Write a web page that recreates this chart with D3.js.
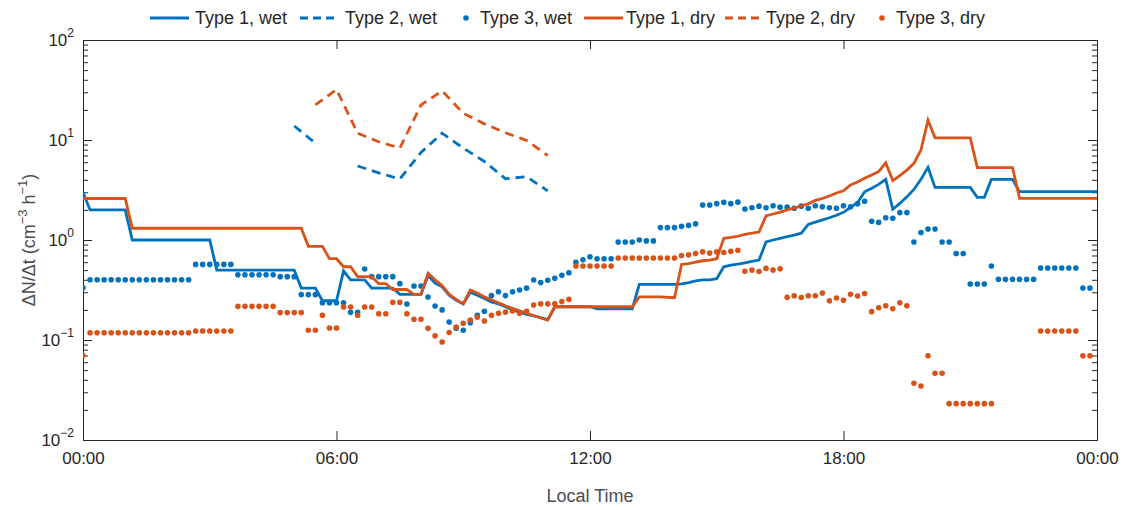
<!DOCTYPE html>
<html>
<head>
<meta charset="utf-8">
<script src="https://cdn.jsdelivr.net/npm/d3@7"></script>
<style>
  body { margin: 0; background: #fff; }
  svg { display: block; font-family: "Liberation Sans", Arial, Helvetica, sans-serif; }
</style>
</head>
<body>
<svg id="chart" width="1128" height="510"></svg>
<script>
// ---- axis ticks ----
const xTickHours = [0, 6, 12, 18, 24];
const xTickLabels = ["00:00", "06:00", "12:00", "18:00", "00:00"];
const yTickExponents = [-2, -1, 0, 1, 2];

// ---- series names (legend order) ----
const seriesNames = ["Type 1, wet", "Type 2, wet", "Type 3, wet", "Type 1, dry", "Type 2, dry", "Type 3, dry"];

// ---- Type 1: step-like rates, breakpoints given in 10-minute slots ----
const type1WetSlots = [0, 1, 6, 7, 18, 19, 30, 31, 33, 34, 36, 37, 38, 40, 41, 44, 45, 48, 49, 50,
  51, 52, 53, 54, 55, 56, 57, 58, 59, 60, 61, 62, 63, 64, 65, 66, 67, 72, 73, 78, 79, 84,
  85, 86, 87, 88, 89, 90, 91, 92, 93, 94, 95, 96, 97, 98, 99, 100, 101, 102, 103, 104, 105, 106,
  107, 108, 109, 110, 111, 112, 113, 114, 115, 116, 117, 118, 119, 120, 121,
  126, 127, 128, 129, 132, 133, 144];
const type1WetValues = [3.0, 2.0, 2.0, 1.0, 1.0, 0.5, 0.5, 0.33, 0.33, 0.247, 0.247, 0.49, 0.40, 0.40, 0.33, 0.33, 0.286, 0.286, 0.44, 0.37,
  0.34, 0.28, 0.25, 0.23, 0.30, 0.28, 0.26, 0.24, 0.229, 0.215, 0.2, 0.19, 0.18, 0.174, 0.167, 0.16, 0.215, 0.215, 0.205, 0.205, 0.36, 0.36,
  0.365, 0.375, 0.39, 0.40, 0.40, 0.41, 0.54, 0.56, 0.575, 0.59, 0.61, 0.63, 0.955, 1.0, 1.04, 1.08, 1.12, 1.17, 1.43, 1.51, 1.59, 1.67,
  1.77, 1.89, 2.12, 2.37, 3.04, 3.3, 3.6, 4.04, 2.03, 2.32, 2.7, 3.2, 4.04, 5.33, 3.36,
  3.36, 2.67, 2.67, 4.04, 4.04, 3.04, 3.04];

const type1DrySlots = [0, 6, 7, 31, 32, 34, 35, 36, 37, 38, 39, 41, 42, 43, 44, 46, 47, 48,
  49, 50, 51, 52, 53, 54, 55, 56, 57, 58, 59, 60, 61, 62, 63, 64, 65, 66, 67, 78, 79, 82, 84,
  85, 86, 87, 88, 89, 90, 91, 92, 93, 94, 95, 96, 97, 98, 99, 100, 101, 102, 103, 104, 105, 106,
  107, 108, 109, 110, 111, 112, 113, 114, 115, 116, 117, 118, 119, 120, 121,
  126, 127, 132, 133, 144];
const type1DryValues = [2.6, 2.6, 1.31, 1.31, 0.865, 0.865, 0.65, 0.65, 0.54, 0.54, 0.43, 0.43, 0.366, 0.366, 0.32, 0.32, 0.286, 0.286,
  0.464, 0.40, 0.35, 0.286, 0.255, 0.23, 0.316, 0.295, 0.27, 0.253, 0.235, 0.22, 0.207, 0.196, 0.185, 0.175, 0.166, 0.158, 0.215, 0.215, 0.27, 0.27, 0.265,
  0.57, 0.58, 0.60, 0.62, 0.63, 0.65, 1.04, 1.06, 1.09, 1.14, 1.17, 1.2, 1.74, 1.82, 1.9, 2.0, 2.08, 2.2, 2.3, 2.49, 2.6, 2.75,
  2.95, 3.1, 3.55, 3.8, 4.14, 4.47, 4.84, 5.93, 3.92, 4.4, 5.0, 5.84, 7.94, 15.8, 10.5,
  10.5, 5.3, 5.3, 2.61, 2.61];

// ---- Type 2: half-hourly, morning only ----
const type2Hours = [5, 5.5, 6, 6.5, 7, 7.5, 8, 8.5, 9, 9.5, 10, 10.5, 11];
const type2WetValues = [13.8, 9.3, null, 5.5, 4.7, 4.07, 7.5, 11.7, 8.3, 6.1, 4.1, 4.3, 3.1];
const type2DryValues = [null, 22.4, 32, 11.7, 9.6, 8.3, 22.4, 31, 18.5, 14.5, 11.8, 9.9, 7.0];

// ---- Type 3: one value per 10-minute slot (144 slots per day) ----
const type3WetValues = [
  0.333, 0.40, 0.40, 0.40, 0.40, 0.40, 0.40, 0.40, 0.40, 0.40, 0.40, 0.40, 0.40, 0.40, 0.40, 0.40,
  0.57, 0.57, 0.57, 0.57, 0.57, 0.57, 0.45, 0.45, 0.45, 0.45, 0.45, 0.45, 0.43, 0.43, 0.43,
  0.284, 0.284, 0.284, 0.236, 0.236, 0.236, 0.236, 0.189, 0.189, 0.513, 0.43, 0.43, 0.43, 0.43,
  0.366, 0.229, 0.347, 0.347,
  0.269, 0.219, 0.2, 0.151, 0.131, 0.125, 0.149, 0.177, 0.194, 0.278, 0.304, 0.278, 0.304, 0.316, 0.33,
  0.398, 0.375, 0.396, 0.414, 0.443, 0.471, 0.598, 0.635, 0.68,
  0.65, 0.65, 0.65, 0.955, 0.955, 0.955, 1.0, 0.98, 0.98, 1.33, 1.33, 1.33, 1.37, 1.4, 1.45,
  2.24, 2.24, 2.31, 2.38, 2.31, 2.39,
  2.04, 2.1, 2.18, 2.1, 2.2, 2.13, 2.13, 2.08, 2.18, 2.08, 2.2, 2.15, 2.1, 2.08, 2.2, 2.15, 2.3, 2.44,
  1.54, 1.5, 1.67, 1.65, 1.88, 1.88,
  0.955, 1.19, 1.29, 1.29, 0.955, 0.955, 0.73, 0.73, 0.363, 0.363, 0.363, 0.55,
  0.404, 0.404, 0.404, 0.404, 0.404, 0.404, 0.525, 0.525, 0.525, 0.525, 0.525, 0.525, 0.331, 0.331];

const type3DryValues = [
  0.07, 0.118, 0.118, 0.118, 0.118, 0.118, 0.118, 0.118, 0.118, 0.118, 0.118, 0.118, 0.118, 0.118, 0.118, 0.118,
  0.123, 0.123, 0.123, 0.123, 0.123, 0.123, 0.217, 0.217, 0.217, 0.217, 0.217, 0.217,
  0.188, 0.188, 0.188, 0.188, 0.125, 0.125, 0.177, 0.132, 0.132, 0.214, 0.214, 0.177, 0.214, 0.214,
  0.183, 0.183, 0.238, 0.238, 0.183, 0.161, 0.161,
  0.131, 0.11, 0.0955, 0.119, 0.135, 0.147, 0.158, 0.169, 0.155, 0.177, 0.185, 0.19, 0.195, 0.185, 0.194,
  0.224, 0.23, 0.23, 0.23, 0.242, 0.255,
  0.55, 0.55, 0.55, 0.55, 0.55, 0.55, 0.66, 0.66, 0.66, 0.66, 0.66, 0.66, 0.66, 0.66, 0.66,
  0.70, 0.71, 0.73, 0.76, 0.74, 0.76, 0.75, 0.77, 0.79,
  0.486, 0.5, 0.485, 0.52, 0.5, 0.515,
  0.267, 0.277, 0.266, 0.277, 0.277, 0.295, 0.247, 0.263, 0.25, 0.286, 0.275, 0.292,
  0.192, 0.21, 0.22, 0.205, 0.236, 0.22,
  0.037, 0.0347, 0.0697, 0.0464, 0.0464,
  0.0231, 0.0231, 0.0231, 0.0231, 0.0231, 0.0231, 0.0231,
  null, null, null, null, null, null,
  0.123, 0.123, 0.123, 0.123, 0.123, 0.123, 0.0697, 0.0697];

// ---- drawing ----
const blue = "#0072BD", orange = "#D95319", axisColor = "#262626", labelColor = "#4d4d4d";
const svg = d3.select("#chart");
const plot = { left: 83, right: 1097, top: 40, bottom: 440 };

const x = d3.scaleLinear().domain([0, 24]).range([plot.left, plot.right]);
const y = d3.scaleLog().domain([1e-2, 1e2]).range([plot.bottom, plot.top]);

svg.append("defs").append("clipPath").attr("id", "plotClip")
  .append("rect").attr("x", plot.left).attr("y", plot.top)
  .attr("width", plot.right - plot.left).attr("height", plot.bottom - plot.top);

// axes: ticks point inward on all four sides
const tickFont = 17;
const xBottom = d3.axisBottom(x).tickValues(xTickHours).tickSizeInner(-9).tickSizeOuter(0)
  .tickFormat((d, i) => xTickLabels[i]).tickPadding(12);
const gx = svg.append("g").attr("transform", `translate(0,${plot.bottom})`).call(xBottom);
const xTop = d3.axisTop(x).tickValues(xTickHours).tickSizeInner(-9).tickSizeOuter(0).tickFormat("");
const gxt = svg.append("g").attr("transform", `translate(0,${plot.top})`).call(xTop);

const minorTicks = [];
for (let e = -2; e < 2; e++) for (let m = 2; m <= 9; m++) minorTicks.push(m * Math.pow(10, e));
const majorTicks = yTickExponents.map(e => Math.pow(10, e));

const yLeftMajor = d3.axisLeft(y).tickValues(majorTicks).tickSizeInner(-9).tickSizeOuter(0).tickFormat("");
const yLeftMinor = d3.axisLeft(y).tickValues(minorTicks).tickSizeInner(-5).tickSizeOuter(0).tickFormat("");
const yRightMajor = d3.axisRight(y).tickValues(majorTicks).tickSizeInner(-9).tickSizeOuter(0).tickFormat("");
const yRightMinor = d3.axisRight(y).tickValues(minorTicks).tickSizeInner(-5).tickSizeOuter(0).tickFormat("");
const gyl = svg.append("g").attr("transform", `translate(${plot.left},0)`);
gyl.append("g").call(yLeftMinor);
gyl.append("g").call(yLeftMajor);
const gyr = svg.append("g").attr("transform", `translate(${plot.right},0)`);
gyr.append("g").call(yRightMinor);
gyr.append("g").call(yRightMajor);

[gx, gxt, gyl, gyr].forEach(g => {
  g.selectAll("path.domain").attr("stroke", axisColor).attr("stroke-width", 1);
  g.selectAll(".tick line").attr("stroke", axisColor).attr("stroke-width", 1);
});
gx.selectAll(".tick text").attr("fill", axisColor).attr("font-size", tickFont)
  .attr("font-family", "Liberation Sans, Arial, sans-serif");

// y tick labels as powers of ten
const yLabels = svg.append("g");
yTickExponents.forEach(e => {
  const t = yLabels.append("text").attr("x", 74).attr("y", y(Math.pow(10, e)) + 6)
    .attr("text-anchor", "end").attr("fill", axisColor).attr("font-size", tickFont);
  t.append("tspan").text("10");
  t.append("tspan").attr("dy", -9).attr("font-size", 12).text(e < 0 ? "\u2212" + (-e) : String(e));
});

// axis titles
svg.append("text").attr("x", (plot.left + plot.right) / 2).attr("y", 502)
  .attr("text-anchor", "middle").attr("fill", labelColor).attr("font-size", 18).text("Local Time");
const yt = svg.append("text").attr("transform", `translate(35,${(plot.top + plot.bottom) / 2}) rotate(-90)`)
  .attr("text-anchor", "middle").attr("fill", labelColor).attr("font-size", 18);
yt.append("tspan").text("\u0394N/\u0394t (cm");
yt.append("tspan").attr("dy", -8).attr("font-size", 13).text("\u22123");
yt.append("tspan").attr("dy", 8).text(" h");
yt.append("tspan").attr("dy", -8).attr("font-size", 13).text("\u22121");
yt.append("tspan").attr("dy", 8).text(")");

// data layers
const layer = svg.append("g").attr("clip-path", "url(#plotClip)");
const line = d3.line().defined(d => d.v != null).x(d => x(d.h)).y(d => y(d.v));

const type1Wet = type1WetSlots.map((s, i) => ({ h: s / 6, v: type1WetValues[i] }));
const type1Dry = type1DrySlots.map((s, i) => ({ h: s / 6, v: type1DryValues[i] }));
const type2Wet = type2Hours.map((h, i) => ({ h, v: type2WetValues[i] }));
const type2Dry = type2Hours.map((h, i) => ({ h, v: type2DryValues[i] }));
const type3Wet = type3WetValues.map((v, i) => ({ h: i / 6, v })).filter(d => d.v != null);
const type3Dry = type3DryValues.map((v, i) => ({ h: i / 6, v })).filter(d => d.v != null);

const lw = 2.8, dash = "9,6", dotR = 2.8;
function drawLine(data, color, dashed) {
  layer.append("path").datum(data).attr("fill", "none").attr("stroke", color)
    .attr("stroke-width", lw).attr("stroke-linejoin", "miter")
    .attr("stroke-dasharray", dashed ? dash : null).attr("d", line);
}
function drawDots(data, color) {
  layer.append("g").selectAll("circle").data(data).join("circle")
    .attr("cx", d => x(d.h)).attr("cy", d => y(d.v)).attr("r", dotR).attr("fill", color);
}
drawLine(type1Wet, blue, false);
drawLine(type2Wet, blue, true);
drawDots(type3Wet, blue);
drawLine(type1Dry, orange, false);
drawLine(type2Dry, orange, true);
drawDots(type3Dry, orange);

// legend across the top
const legendItems = [
  { name: seriesNames[0], color: blue, kind: "solid", x0: 150, tx: 195 },
  { name: seriesNames[1], color: blue, kind: "dash", x0: 300, tx: 345 },
  { name: seriesNames[2], color: blue, kind: "dot", x0: 466, tx: 480 },
  { name: seriesNames[3], color: orange, kind: "solid", x0: 584, tx: 626 },
  { name: seriesNames[4], color: orange, kind: "dash", x0: 725, tx: 766 },
  { name: seriesNames[5], color: orange, kind: "dot", x0: 882, tx: 896 }
];
const ly = 18;
const lg = svg.append("g");
legendItems.forEach(it => {
  if (it.kind === "dot") {
    lg.append("circle").attr("cx", it.x0).attr("cy", ly).attr("r", dotR).attr("fill", it.color);
  } else {
    lg.append("line").attr("x1", it.x0).attr("x2", it.x0 + 39).attr("y1", ly).attr("y2", ly)
      .attr("stroke", it.color).attr("stroke-width", lw)
      .attr("stroke-dasharray", it.kind === "dash" ? "8,5" : null);
  }
  lg.append("text").attr("x", it.tx).attr("y", ly + 6).attr("fill", axisColor)
    .attr("font-size", 18).text(it.name);
});
</script>
</body>
</html>
